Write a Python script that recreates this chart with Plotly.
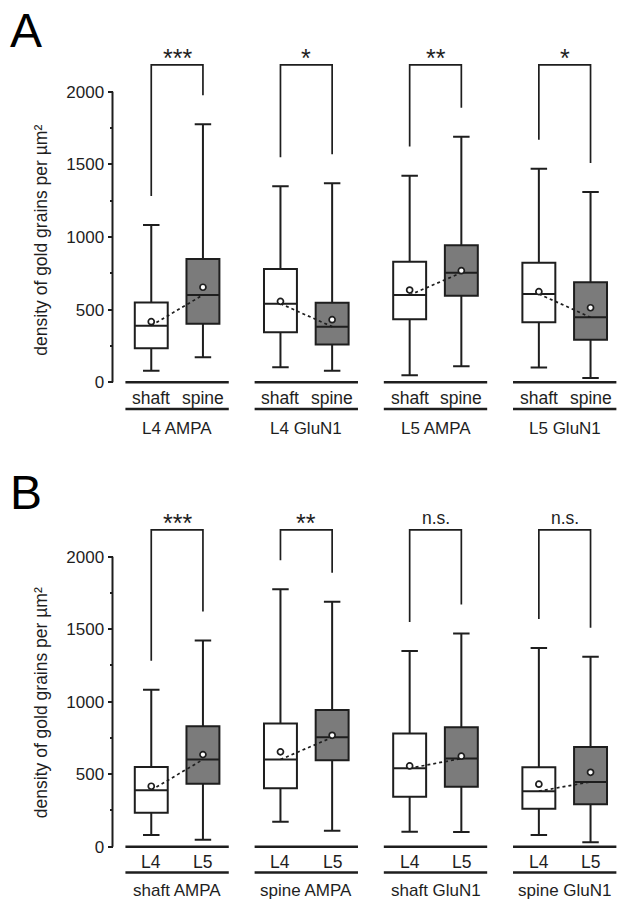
import plotly.graph_objects as go

# ---------------- data ----------------
groups_A = ["L4 AMPA", "L4 GluN1", "L5 AMPA", "L5 GluN1"]
cats_A = ["shaft", "spine"]
sig_A = ["***", "*", "**", "*"]

groups_B = ["shaft AMPA", "spine AMPA", "shaft GluN1", "spine GluN1"]
cats_B = ["L4", "L5"]
sig_B = ["***", "**", "n.s.", "n.s."]

# box statistics, order: L4 AMPA shaft, L4 AMPA spine, L4 GluN1 shaft, L4 GluN1 spine,
#                        L5 AMPA shaft, L5 AMPA spine, L5 GluN1 shaft, L5 GluN1 spine
whisker_low = [80, 172, 103, 80, 48, 110, 101, 30]
q1_vals = [234, 403, 344, 261, 434, 596, 413, 293]
median_vals = [390, 601, 541, 383, 601, 754, 608, 447]
q3_vals = [550, 849, 780, 548, 830, 943, 823, 688]
whisker_high = [1083, 1776, 1349, 1370, 1422, 1690, 1470, 1310]
mean_vals = [417, 654, 557, 431, 635, 768, 624, 513]

# panel B re-groups the same boxes (L4 vs L5)
order_B = [0, 4, 1, 5, 2, 6, 3, 7]

y_ticks = [0, 500, 1000, 1500, 2000]
y_minor = [250, 750, 1250, 1750]

# ---------------- layout geometry ----------------
W, H = 617, 902
px_unit = 129.2            # px per group
axis_px = 112.5            # pixel of y axis line
xr0 = -0.5 - axis_px / px_unit
xr1 = xr0 + W / px_unit
half = 0.2                 # box offset inside a group
box_w = 0.255
BLACK = "#1e1e1e"
GRAY = "#7b7b7b"
FONT = "Liberation Sans, Arial, sans-serif"

panels = [
    dict(sfx="", zero=382.3, scale=290.6 / 2000, top=40, bot=450,
         groups=groups_A, cats=cats_A, sig=sig_A, order=list(range(8)),
         cat_off=15.5, line2_off=26.7, grp_off=46.5, letter="A", letter_px=30.5,
         title_val=975),
    dict(sfx="2", zero=846.7, scale=290.0 / 2000, top=495, bot=902,
         groups=groups_B, cats=cats_B, sig=sig_B, order=order_B,
         cat_off=15.0, line2_off=25.8, grp_off=43.5, letter="B", letter_px=493,
         title_val=990),
]

fig = go.Figure()
shapes = []
annotations = []
layout = dict(width=W, height=H, margin=dict(l=0, r=0, t=0, b=0),
              paper_bgcolor="white", plot_bgcolor="white", showlegend=False,
              font=dict(family=FONT, color=BLACK))

bracket_top = 2185
leg_gap = 200

for p in panels:
    sfx = p["sfx"]
    xa, ya = "x" + sfx, "y" + sfx
    sc = p["scale"]
    yr1 = (p["zero"] - p["top"]) / sc
    yr0 = (p["zero"] - p["bot"]) / sc
    d0 = 1 - p["bot"] / H
    d1 = 1 - p["top"] / H

    layout["xaxis" + sfx] = dict(domain=[0, 1], range=[xr0, xr1], visible=False,
                                 anchor=ya, fixedrange=True)
    layout["yaxis" + sfx] = dict(domain=[max(d0, 0), d1], range=[yr0, yr1],
                                 anchor="free", position=axis_px / W,
                                 showgrid=False, zeroline=False, showline=False,
                                 tickvals=y_ticks, ticktext=[str(t) for t in y_ticks],
                                 ticks="outside", ticklen=5, tickwidth=2, tickcolor=BLACK,
                                 tickfont=dict(size=17, family=FONT, color=BLACK),
                                 minor=dict(tickvals=y_minor, ticks="outside", ticklen=3,
                                            tickwidth=1.5, tickcolor=BLACK),
                                 fixedrange=True)

    def px2val(off):
        return off / sc

    # y axis line (0..2000)
    shapes.append(dict(type="line", xref=xa, yref=ya, x0=-0.5, x1=-0.5, y0=0, y1=2000,
                       line=dict(color=BLACK, width=2)))

    for g in range(4):
        centers = [g - half, g + half]
        idx = [p["order"][2 * g], p["order"][2 * g + 1]]
        for k in range(2):
            i = idx[k]
            fig.add_trace(go.Box(
                x=[centers[k]], q1=[q1_vals[i]], median=[median_vals[i]], q3=[q3_vals[i]],
                lowerfence=[whisker_low[i]], upperfence=[whisker_high[i]],
                width=box_w, whiskerwidth=0.5, boxpoints=False,
                fillcolor="white" if k == 0 else GRAY,
                line=dict(color=BLACK, width=2), xaxis=xa, yaxis=ya,
                hoverinfo="skip"))
        # dotted connector between medians
        fig.add_trace(go.Scatter(
            x=centers, y=[median_vals[idx[0]], median_vals[idx[1]]], mode="lines",
            line=dict(color=BLACK, width=1.7, dash="dot"), xaxis=xa, yaxis=ya,
            hoverinfo="skip"))
        # mean markers
        fig.add_trace(go.Scatter(
            x=centers, y=[mean_vals[idx[0]], mean_vals[idx[1]]], mode="markers",
            marker=dict(symbol="circle", size=6, color="white",
                        line=dict(color=BLACK, width=1.7)),
            xaxis=xa, yaxis=ya, hoverinfo="skip"))

        # significance bracket
        shapes.append(dict(type="path", xref=xa, yref=ya,
                           path=(f"M {centers[0]} {whisker_high[idx[0]] + leg_gap} "
                                 f"L {centers[0]} {bracket_top} L {centers[1]} {bracket_top} "
                                 f"L {centers[1]} {whisker_high[idx[1]] + leg_gap}"),
                           line=dict(color=BLACK, width=1.7)))
        is_star = "*" in p["sig"][g]
        annotations.append(dict(xref=xa, yref=ya, x=g, y=bracket_top, text=p["sig"][g],
                                showarrow=False, yanchor="bottom",
                                yshift=-9 if is_star else 0,
                                font=dict(size=25 if is_star else 17.5, family=FONT,
                                          color=BLACK)))
        # group lines
        for off in (0, p["line2_off"]):
            yv = -px2val(off)
            shapes.append(dict(type="line", xref=xa, yref=ya, x0=g - 0.4, x1=g + 0.4,
                               y0=yv, y1=yv, line=dict(color=BLACK, width=2.5)))
        for k in range(2):
            annotations.append(dict(xref=xa, yref=ya, x=centers[k], y=-px2val(p["cat_off"]),
                                    text=p["cats"][k], showarrow=False, yanchor="middle",
                                    font=dict(size=17.5, family=FONT, color=BLACK)))
        annotations.append(dict(xref=xa, yref=ya, x=g, y=-px2val(p["grp_off"]),
                                text=p["groups"][g], showarrow=False, yanchor="middle",
                                font=dict(size=17, family=FONT, color=BLACK)))

    # y axis title
    annotations.append(dict(xref="paper", yref=ya, x=41 / W, y=p["title_val"],
                            text="density of gold grains per µm²", textangle=-90,
                            showarrow=False, xanchor="center", yanchor="middle",
                            font=dict(size=17.5, family=FONT, color=BLACK)))
    # panel letter
    annotations.append(dict(xref="paper", yref="paper", x=8 / W, y=1 - p["letter_px"] / H,
                            text=p["letter"], showarrow=False, xanchor="left",
                            yanchor="middle", font=dict(size=48, family=FONT, color="black")))

layout["shapes"] = shapes
layout["annotations"] = annotations
fig.update_layout(**layout)
fig.write_html("out.html", config={"displayModeBar": False},
               post_script="document.body.style.margin='0';document.body.style.overflow='hidden';")
